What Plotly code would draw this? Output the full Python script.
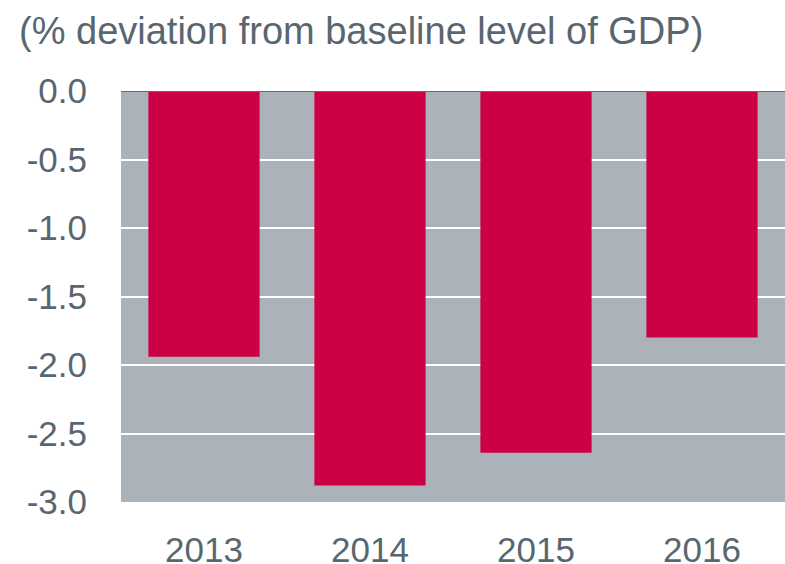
import plotly.graph_objects as go

# Deviation of GDP from its baseline level, by year
years = ["2013", "2014", "2015", "2016"]
gdp_deviation = [-1.94, -2.88, -2.64, -1.80]
y_ticks = [0.0, -0.5, -1.0, -1.5, -2.0, -2.5, -3.0]
y_tick_labels = ["0.0", "-0.5", "-1.0", "-1.5", "-2.0", "-2.5", "-3.0"]

TEXT = "rgb(89,102,112)"
BAR = "rgb(204,0,68)"
PANEL = "rgb(172,178,185)"
FONT = "Liberation Sans, Arial, sans-serif"

PLOT_W = 785 - 121
PLOT_H = 564 - 91 - 62

fig = go.Figure(
    go.Bar(
        x=years,
        y=gdp_deviation,
        marker=dict(color=BAR, line=dict(width=0)),
        hoverinfo="x+y",
    )
)

fig.update_layout(
    width=785,
    height=564,
    margin=dict(l=121, r=0, t=91, b=62, pad=0),
    paper_bgcolor="white",
    plot_bgcolor=PANEL,
    bargap=0.33,
    showlegend=False,
    font=dict(family=FONT, color=TEXT, size=35),
    annotations=[
        dict(
            text="(% deviation from baseline level of GDP)",
            xref="paper", yref="paper",
            x=(18 - 121) / PLOT_W, y=1 + 60 / PLOT_H,
            xanchor="left", yanchor="middle",
            showarrow=False,
            borderpad=0,
            font=dict(family=FONT, color=TEXT, size=38),
        )
    ],
    shapes=[
        dict(
            type="line", xref="paper", yref="y",
            x0=0, x1=1, y0=0, y1=0,
            line=dict(color="rgb(95,106,114)", width=2),
        )
    ],
)

fig.update_xaxes(
    automargin=False,
    showgrid=False,
    zeroline=False,
    showline=False,
    ticks="",
    ticklabelstandoff=24,
    tickfont=dict(size=35, color=TEXT, family=FONT),
)

fig.update_yaxes(
    automargin=False,
    range=[-3, 0],
    tickvals=y_ticks,
    ticktext=y_tick_labels,
    showgrid=True,
    gridcolor="white",
    gridwidth=2,
    zeroline=False,
    showline=False,
    ticks="",
    ticklabelstandoff=33,
    tickfont=dict(size=35, color=TEXT, family=FONT),
)

fig.write_html("out.html")
